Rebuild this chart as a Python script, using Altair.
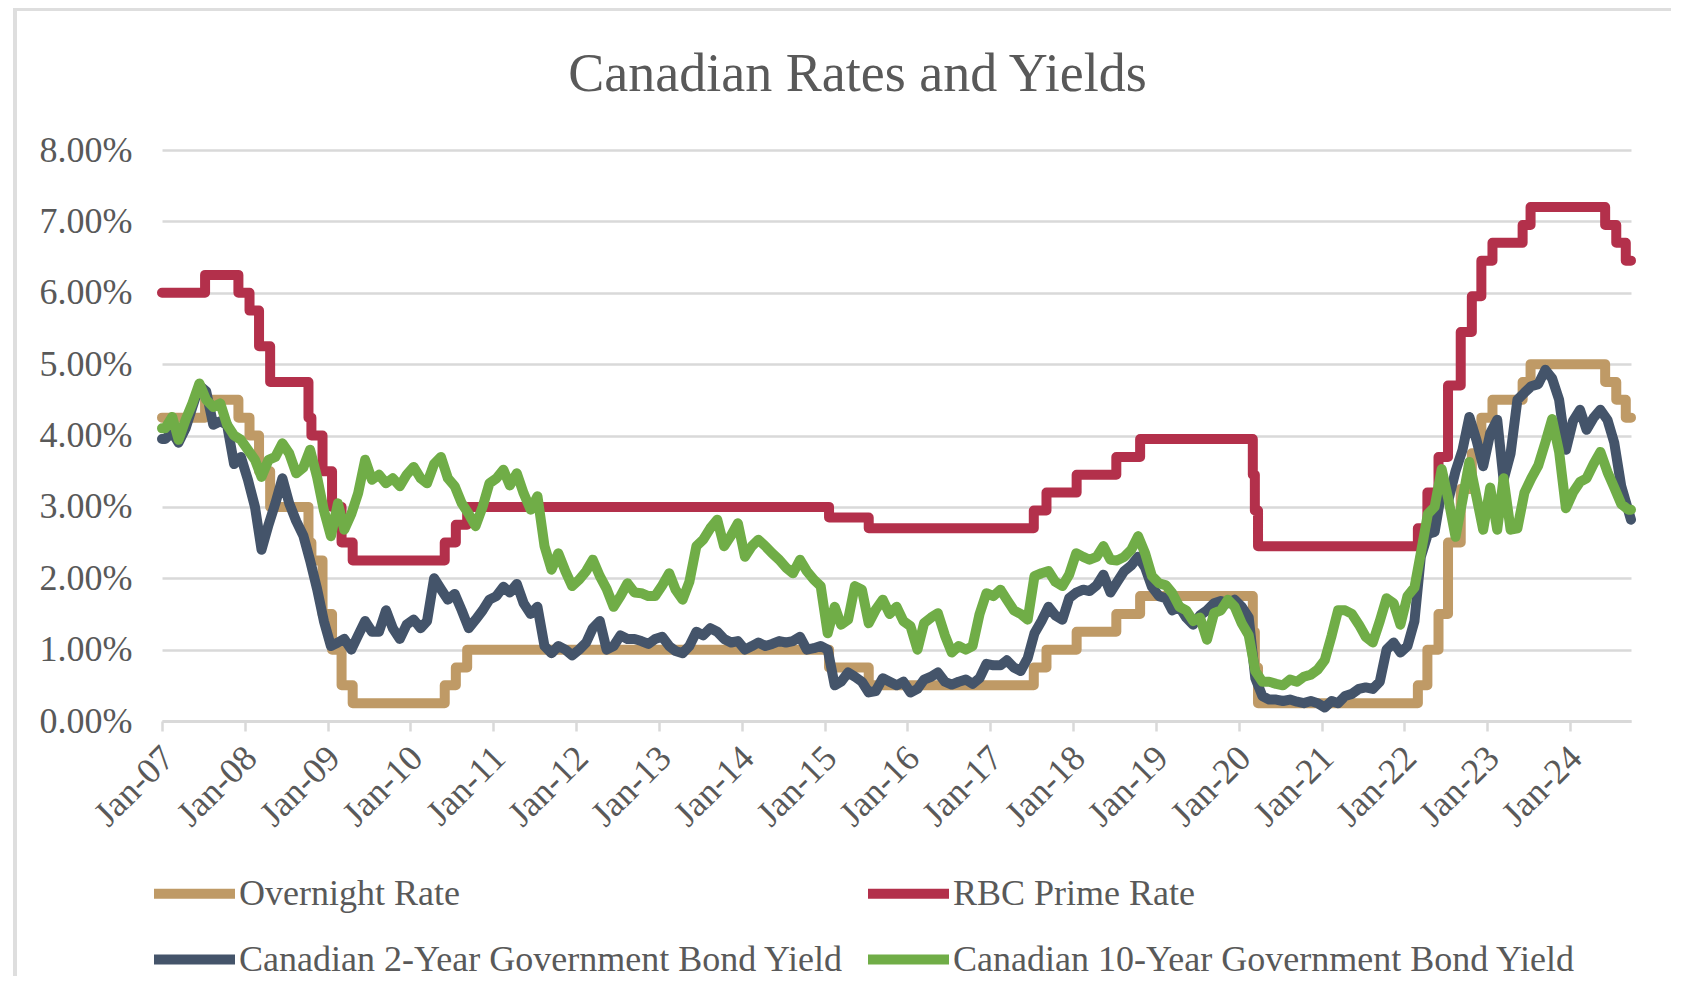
import altair as alt
import pandas as pd

# ---------------- data ----------------
series_names = [
    "Overnight Rate",
    "RBC Prime Rate",
    "Canadian 2-Year Government Bond Yield",
    "Canadian 10-Year Government Bond Yield",
]
series_colors = ["#BF9A66", "#B3304B", "#44546A", "#70AD47"]

# policy-rate change dates (step series)
policy_dates = [
    "2007-01-01", "2007-07-10", "2007-12-04", "2008-01-22", "2008-03-04", "2008-04-22",
    "2008-10-08", "2008-10-21", "2008-12-09", "2009-01-20", "2009-03-03", "2009-04-21",
    "2010-06-01", "2010-07-20", "2010-09-08", "2015-01-21", "2015-07-15", "2017-07-12",
    "2017-09-06", "2018-01-17", "2018-07-11", "2018-10-24", "2020-03-04", "2020-03-13",
    "2020-03-27", "2022-03-02", "2022-04-13", "2022-06-01", "2022-07-13", "2022-09-07",
    "2022-10-26", "2022-12-07", "2023-01-25", "2023-06-07", "2023-07-12", "2024-06-05",
    "2024-07-24", "2024-09-04", "2024-09-27",
]
overnight_rate = [
    4.25, 4.50, 4.25, 4.00, 3.50, 3.00, 2.50, 2.25, 1.50, 1.00,
    0.50, 0.25, 0.50, 0.75, 1.00, 0.75, 0.50, 0.75, 1.00, 1.25,
    1.50, 1.75, 1.25, 0.75, 0.25, 0.50, 1.00, 1.50, 2.50, 3.25,
    3.75, 4.25, 4.50, 4.75, 5.00, 4.75, 4.50, 4.25, 4.25,
]
prime_rate = [
    6.00, 6.25, 6.00, 5.75, 5.25, 4.75, 4.25, 4.00, 3.50, 3.00,
    2.50, 2.25, 2.50, 2.75, 3.00, 2.85, 2.70, 2.95, 3.20, 3.45,
    3.70, 3.95, 3.45, 2.95, 2.45, 2.70, 3.20, 3.70, 4.70, 5.45,
    5.95, 6.45, 6.70, 6.95, 7.20, 6.95, 6.70, 6.45, 6.45,
]

# bond yields: start point, mid-month readings Jan-2007 .. Sep-2024, end point
bond_dates = (
    ["2007-01-01"]
    + [f"{y}-{m:02d}-15" for y in range(2007, 2025) for m in range(1, 13) if not (y == 2024 and m > 9)]
    + ["2024-09-27"]
)
yield_2y = [
    3.95,
    3.95, 4.05, 3.90, 4.10, 4.40, 4.70, 4.62, 4.15, 4.20, 4.15, 3.60, 3.70,   # 2007
    3.38, 3.00, 2.40, 2.75, 3.05, 3.40, 3.05, 2.80, 2.60, 2.25, 1.85, 1.40,   # 2008
    1.05, 1.10, 1.15, 1.00, 1.20, 1.40, 1.25, 1.25, 1.55, 1.30, 1.15, 1.35,   # 2009
    1.42, 1.30, 1.40, 2.00, 1.85, 1.70, 1.78, 1.55, 1.30, 1.42, 1.55, 1.70,   # 2010
    1.75, 1.88, 1.80, 1.92, 1.65, 1.50, 1.60, 1.05, 0.95, 1.05, 1.00, 0.92,   # 2011
    1.00, 1.10, 1.30, 1.40, 1.00, 1.05, 1.20, 1.15, 1.15, 1.12, 1.08, 1.15,   # 2012
    1.18, 1.05, 0.98, 0.95, 1.05, 1.25, 1.20, 1.30, 1.25, 1.15, 1.10, 1.12,   # 2013
    1.00, 1.05, 1.10, 1.05, 1.08, 1.12, 1.10, 1.12, 1.18, 1.00, 1.02, 1.05,   # 2014
    1.00, 0.50, 0.55, 0.68, 0.62, 0.55, 0.40, 0.42, 0.60, 0.55, 0.50, 0.55,   # 2015
    0.40, 0.45, 0.58, 0.62, 0.68, 0.55, 0.51, 0.55, 0.58, 0.52, 0.60, 0.80,   # 2016
    0.78, 0.78, 0.85, 0.75, 0.70, 0.88, 1.23, 1.40, 1.60, 1.48, 1.42, 1.72,   # 2017
    1.80, 1.84, 1.82, 1.90, 2.05, 1.80, 1.95, 2.10, 2.18, 2.30, 2.15, 1.88,   # 2018
    1.75, 1.72, 1.55, 1.60, 1.45, 1.35, 1.48, 1.55, 1.65, 1.68, 1.65, 1.70,   # 2019
    1.60, 1.45, 0.60, 0.35, 0.30, 0.30, 0.28, 0.30, 0.27, 0.25, 0.28, 0.25,   # 2020
    0.19, 0.28, 0.25, 0.35, 0.38, 0.45, 0.47, 0.45, 0.55, 1.00, 1.10, 0.96,   # 2021
    1.05, 1.40, 2.30, 2.62, 2.65, 3.23, 3.10, 3.50, 3.80, 4.26, 3.94, 3.57,   # 2022
    4.03, 4.22, 3.38, 3.75, 4.50, 4.60, 4.69, 4.72, 4.92, 4.80, 4.50, 3.80,   # 2023
    4.20, 4.36, 4.08, 4.25, 4.36, 4.22, 3.90, 3.29, 2.95,                     # 2024
    2.82,
]
yield_10y = [
    4.10,
    4.10, 4.26, 3.94, 4.22, 4.45, 4.73, 4.50, 4.40, 4.45, 4.15, 4.00, 3.94,   # 2007
    3.80, 3.66, 3.42, 3.66, 3.70, 3.89, 3.75, 3.47, 3.55, 3.80, 3.42, 2.95,   # 2008
    2.59, 3.05, 2.68, 2.90, 3.19, 3.66, 3.38, 3.45, 3.33, 3.40, 3.29, 3.45,   # 2009
    3.56, 3.40, 3.33, 3.60, 3.70, 3.40, 3.29, 3.05, 2.90, 2.73, 3.00, 3.33,   # 2010
    3.40, 3.52, 3.30, 3.47, 3.19, 2.96, 3.15, 2.45, 2.12, 2.35, 2.10, 1.89,   # 2011
    1.98, 2.10, 2.26, 2.03, 1.85, 1.60, 1.75, 1.93, 1.80, 1.79, 1.75, 1.75,   # 2012
    1.90, 2.07, 1.84, 1.70, 1.95, 2.45, 2.54, 2.70, 2.82, 2.45, 2.60, 2.77,   # 2013
    2.30, 2.45, 2.54, 2.45, 2.35, 2.26, 2.15, 2.07, 2.26, 2.10, 1.98, 1.89,   # 2014
    1.23, 1.60, 1.35, 1.42, 1.89, 1.84, 1.37, 1.56, 1.70, 1.50, 1.60, 1.40,   # 2015
    1.33, 1.00, 1.37, 1.45, 1.51, 1.20, 0.96, 1.05, 1.00, 1.05, 1.50, 1.79,   # 2016
    1.75, 1.84, 1.70, 1.55, 1.50, 1.42, 2.03, 2.07, 2.10, 1.95, 1.89, 2.05,   # 2017
    2.35, 2.30, 2.26, 2.30, 2.45, 2.26, 2.25, 2.30, 2.40, 2.59, 2.35, 2.03,   # 2018
    1.93, 1.90, 1.79, 1.60, 1.55, 1.40, 1.45, 1.14, 1.51, 1.55, 1.70, 1.60,   # 2019
    1.37, 1.20, 0.70, 0.55, 0.55, 0.52, 0.50, 0.58, 0.55, 0.62, 0.65, 0.72,   # 2020
    0.85, 1.20, 1.55, 1.55, 1.50, 1.35, 1.18, 1.10, 1.40, 1.72, 1.65, 1.35,   # 2021
    1.75, 1.87, 2.35, 2.90, 3.00, 3.53, 3.10, 2.58, 3.10, 3.63, 3.15, 2.68,   # 2022
    3.27, 2.68, 3.40, 2.68, 2.70, 3.20, 3.40, 3.58, 3.90, 4.23, 3.77, 2.98,   # 2023
    3.20, 3.35, 3.40, 3.60, 3.77, 3.49, 3.27, 3.04, 2.96,                     # 2024
    2.96,
]
year_ticks = list(range(2007, 2025))
y_ticks = [0, 1, 2, 3, 4, 5, 6, 7, 8]

# ---------------- table ----------------
rows = []
for d, v in zip(policy_dates, overnight_rate):
    rows.append({"date": d, "value": v, "series": series_names[0]})
for d, v in zip(policy_dates, prime_rate):
    rows.append({"date": d, "value": v, "series": series_names[1]})
for d, v in zip(bond_dates, yield_2y):
    rows.append({"date": d, "value": v, "series": series_names[2]})
for d, v in zip(bond_dates, yield_10y):
    rows.append({"date": d, "value": v, "series": series_names[3]})
df = pd.DataFrame(rows)

FONT = "Liberation Serif"
GREY = "#595959"
GRID = "#d9d9d9"

x_enc = alt.X(
    "date:T",
    title=None,
    scale=alt.Scale(
        type="utc",
        domain=[
            alt.DateTime(year=2007, month=1, date=1, utc=True),
            alt.DateTime(year=2024, month=9, date=27, utc=True),
        ],
    ),
    axis=alt.Axis(
        values=[alt.DateTime(year=y, month=1, date=1, utc=True) for y in year_ticks],
        format="%b-%y",
        labelAngle=-45,
        labelAlign="right",
        labelBaseline="top",
        labelPadding=9,
        labelOffset=-6,
        labelFont=FONT,
        labelFontSize=36,
        labelColor=GREY,
        grid=False,
        domain=True,
        domainColor=GRID,
        domainWidth=3,
        ticks=True,
        tickColor=GRID,
        tickWidth=2.5,
        tickSize=10,
        labelOverlap=False,
    ),
)
y_enc = alt.Y(
    "value:Q",
    title=None,
    scale=alt.Scale(domain=[0, 8]),
    axis=alt.Axis(
        values=y_ticks,
        labelExpr="format(datum.value, '.2f') + '%'",
        labelFont=FONT,
        labelFontSize=36,
        labelColor=GREY,
        labelPadding=30,
        domain=False,
        ticks=False,
        grid=True,
        gridColor=GRID,
        gridWidth=2.5,
    ),
)
color_enc = alt.Color(
    "series:N",
    scale=alt.Scale(domain=series_names, range=series_colors),
    legend=alt.Legend(
        title=None,
        orient="none",
        direction="horizontal",
        legendX=-13,
        legendY=698,
        columns=2,
        symbolType="stroke",
        symbolSize=6561,
        symbolStrokeWidth=10,
        labelFont=FONT,
        labelFontSize=36,
        labelColor=GREY,
        labelLimit=0,
        labelOffset={"expr": "-1"},
        columnPadding=4,
        rowPadding={"expr": "-29"},
        padding=0,
    ),
)

base = alt.Chart(df)


def series_layer(name, interp):
    return (
        base.transform_filter(alt.datum.series == name)
        .mark_line(interpolate=interp, strokeWidth=10, strokeJoin="round", strokeCap="round")
        .encode(x=x_enc, y=y_enc, color=color_enc)
    )


frame_df = pd.DataFrame({"k": [0]})
frame_top = alt.Chart(frame_df).mark_rule(color="#dedede", strokeWidth=4).encode(
    x=alt.value(-148), x2=alt.value(1700), y=alt.value(-141)
)
frame_left = alt.Chart(frame_df).mark_rule(color="#dedede", strokeWidth=4).encode(
    x=alt.value(-147), y=alt.value(-143), y2=alt.value(840)
)

chart = (
    alt.layer(
        frame_top,
        frame_left,
        series_layer(series_names[0], "step-after"),
        series_layer(series_names[1], "step-after"),
        series_layer(series_names[2], "linear"),
        series_layer(series_names[3], "linear"),
    )
    .properties(
        width=1469,
        height=571,
        title=alt.Title(
            "Canadian Rates and Yields",
            font=FONT,
            fontSize=54,
            fontWeight="normal",
            color=GREY,
            anchor="middle",
            dx=-39,
            baseline="alphabetic",
            offset=-140,
        ),
        autosize=alt.AutoSizeParams(type="none"),
        padding={"left": 154, "top": 142, "right": 40, "bottom": 255},
        background="white",
    )
    .configure_view(stroke=None)
)

chart.save("out.html", embed_options={"renderer": "svg", "actions": False})
